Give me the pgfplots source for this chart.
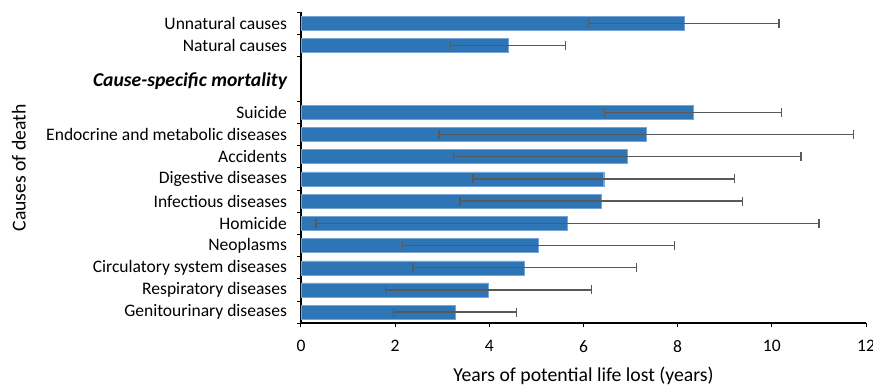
\documentclass[border=0pt]{standalone}
\usepackage{pgfplots}
\pgfplotsset{compat=1.18}
\usepackage{fontspec}
\setmainfont{Carlito}

\definecolor{barblue}{RGB}{46,117,182}
\definecolor{baredge}{RGB}{120,165,215}
\definecolor{errgray}{RGB}{89,89,89}

\begin{document}
\fontsize{17.6}{21}\selectfont
\begin{tikzpicture}
\begin{axis}[
  scale only axis,
  width=565bp, height=311bp,
  xbar,
  bar width=0.63,
  xmin=0, xmax=12,
  ymin=-0.5, ymax=13.5,
  xtick={0,2,...,12},
  axis lines*=left,
  x axis line style={-, black, line width=2bp},
  y axis line style={-, black, line width=1.5bp},
  tick align=outside,
  major tick length=4bp,
  tick style={black, line width=1pt},
  % boundaries between categories carry the tick marks
  ytick={-0.5,0.5,1.5,2.5,3.5,4.5,5.5,6.5,7.5,8.5,9.5,11.5,12.5,13.5},
  yticklabels={},
  extra y ticks={0,1,2,3,4,5,6,7,8,9,10.4,12,13},
  extra y tick labels={Genitourinary diseases, Respiratory diseases,
    Circulatory system diseases, Neoplasms, Homicide, Infectious diseases,
    Digestive diseases, Accidents, Endocrine and metabolic diseases, Suicide,
    {\fontsize{19.7}{22}\selectfont\bfseries\itshape Cause-specific mortality},
    Natural causes, Unnatural causes},
  extra y tick style={major tick length=0pt, yticklabel style={xshift=-8bp}},
  /pgf/number format/assume math mode=true,
  xticklabel style={yshift=-7bp},
  xlabel={Years of potential life lost (years)},
  ylabel={Causes of death},
  label style={font=\fontsize{19.8}{23}\selectfont},
  xlabel style={yshift=-3bp},
  ylabel shift=4.5bp,
  clip=false,
]
\addplot[
  fill=barblue, draw=baredge, line width=0.4pt,
  error bars/.cd, x dir=both, x explicit,
  error bar style={errgray, line width=1.4bp},
  error mark options={rotate=90, mark size=4.5bp, errgray, line width=1.4bp},
] coordinates {
  (3.27,0)  +- (1.31,0)
  (3.98,1)  +- (2.19,0)
  (4.75,2)  +- (2.37,0)
  (5.04,3)  +- (2.89,0)
  (5.66,4)  +- (5.34,0)
  (6.38,5)  +- (3.00,0)
  (6.43,6)  +- (2.78,0)
  (6.93,7)  +- (3.69,0)
  (7.33,8)  +- (4.40,0)
  (8.33,9)  +- (1.88,0)
  (4.40,12) +- (1.22,0)
  (8.13,13) +- (2.02,0)
};
\coordinate (ll) at (rel axis cs:0,0);
\coordinate (ur) at (rel axis cs:1,1);
\end{axis}
\pgfresetboundingbox
\path ([shift={(-301bp,-64bp)}]ll) rectangle ([shift={(7bp,12.3bp)}]ur);
\end{tikzpicture}
\end{document}
